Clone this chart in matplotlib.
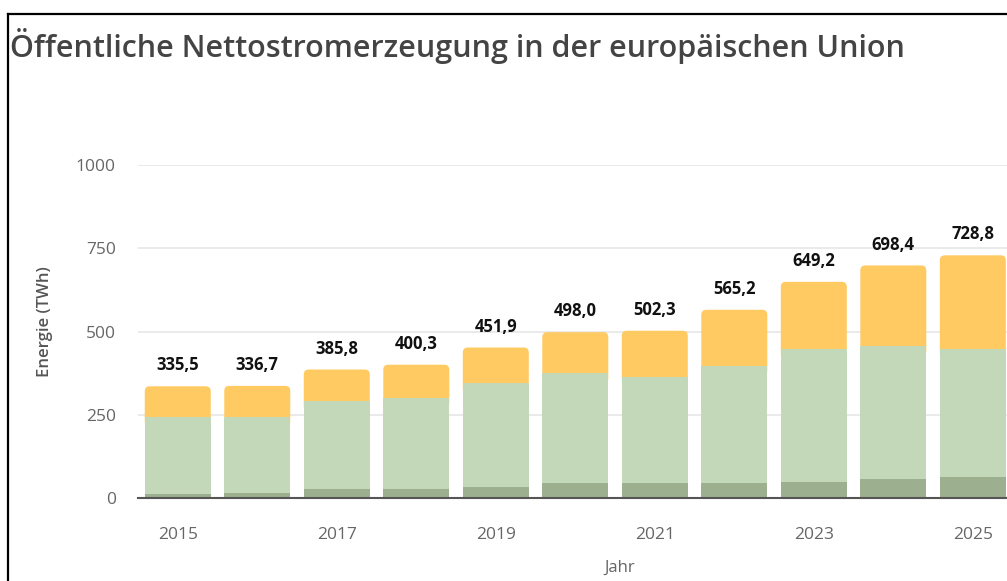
import numpy as np
import matplotlib
matplotlib.use("Agg")
import matplotlib.pyplot as plt
from matplotlib.lines import Line2D
from matplotlib.patches import FancyBboxPatch

# values (TWh)
jahre = [2015, 2016, 2017, 2018, 2019, 2020, 2021, 2022, 2023, 2024, 2025]
unten = [11, 16, 26, 26, 34, 44, 44, 44, 47, 57, 62]
mitte = [233, 228, 265, 274, 310, 330, 320, 353, 401, 400, 386]
oben = [91.5, 92.7, 94.8, 100.3, 107.9, 124.0, 138.3, 168.2, 201.2, 241.4, 280.8]
summen = [335.5, 336.7, 385.8, 400.3, 451.9, 498.0, 502.3, 565.2, 649.2, 698.4, 728.8]
x_ticks = [2015, 2017, 2019, 2021, 2023, 2025]
y_ticks = [0, 250, 500, 750, 1000]

farbe_unten = "#9caf8f"
farbe_mitte = "#c3d8b8"
farbe_oben = "#ffca61"

plt.rcParams['font.family'] = ['Open Sans', 'DejaVu Sans']

fig = plt.figure(figsize=(10.07, 5.81), dpi=100)
ax = fig.add_axes([138 / 1007, 83 / 581, 1 - 138 / 1007, 333 / 581])
ax.set_xlim(2014.5, 2025.43)
ax.set_ylim(0, 1000)

x = np.array(jahre)
b1 = np.array(unten)
b2 = np.array(mitte)
b3 = np.array(oben)
breite = 0.83

# top segment with rounded corners, drawn a bit lower so the green hides the bottom rounding
bbox = ax.get_position()
px_x = bbox.width * fig.get_figwidth() * fig.dpi / (ax.get_xlim()[1] - ax.get_xlim()[0])
px_y = bbox.height * fig.get_figheight() * fig.dpi / (ax.get_ylim()[1] - ax.get_ylim()[0])
aspect = px_x / px_y
radius = 5 / px_x
for xi, start, h in zip(x, b1 + b2, b3):
    ax.add_patch(FancyBboxPatch((xi - breite / 2, start - 30), breite, h + 30,
                                boxstyle=f"round,pad=0,rounding_size={radius}",
                                mutation_aspect=aspect, facecolor=farbe_oben,
                                edgecolor="none", zorder=2))
ax.bar(x, b2, breite, bottom=b1, color=farbe_mitte, zorder=3)
ax.bar(x, b1, breite, color=farbe_unten, zorder=3)

for xi, s in zip(jahre, summen):
    ax.annotate(f"{s:.1f}".replace(".", ","), (xi, s), xytext=(0, 15),
                textcoords="offset points", ha="center", va="center",
                fontsize=12, fontweight="bold", color="#111111")

ax.set_xticks(x_ticks)
ax.set_yticks(y_ticks)
ax.tick_params(axis="both", length=0, labelsize=12.5, colors="#666666")
ax.tick_params(axis="x", pad=21)
ax.tick_params(axis="y", pad=16)
ax.grid(axis="y", color="#e6e6e6", linewidth=1.2, zorder=0)
for side in ["top", "right", "left"]:
    ax.spines[side].set_visible(False)
ax.spines["bottom"].set_color("#555555")
ax.spines["bottom"].set_linewidth(1.5)
ax.spines["bottom"].set_zorder(4)

fig.text(10 / 1007, 1 - 46 / 581, "Öffentliche Nettostromerzeugung in der europäischen Union",
         fontsize=22, fontweight="semibold", color="#444444", ha="left", va="center")
fig.text(45 / 1007, 1 - 322 / 581, "Energie (TWh)", rotation=90, fontsize=12,
         fontweight="semibold", color="#555555", ha="center", va="center")
fig.text(620 / 1007, 1 - 568 / 581, "Jahr", fontsize=12, color="#666666",
         ha="center", va="center")

# black frame on the left and top
fig.add_artist(Line2D([8 / 1007, 8 / 1007], [0, 1 - 14 / 581], transform=fig.transFigure,
                      color="black", linewidth=1.6))
fig.add_artist(Line2D([8 / 1007, 1], [1 - 14 / 581, 1 - 14 / 581], transform=fig.transFigure,
                      color="black", linewidth=1.6))

fig.savefig("out.png", dpi=100)
